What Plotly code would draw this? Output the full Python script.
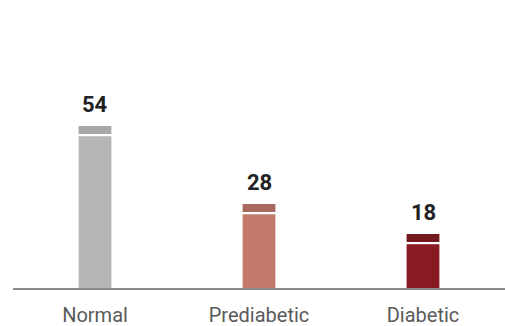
import plotly.graph_objects as go

categories = ["Normal", "Prediabetic", "Diabetic"]
values = [54, 28, 18]
body_colors = ["#b5b5b5", "#c27a6b", "#8a1a22"]
cap_colors = ["#a8a8a8", "#a86a5e", "#741820"]

cap = 3.4
gap = 0.7

fig = go.Figure()
fig.add_trace(go.Bar(
    x=categories, y=[v - cap for v in values], base=0,
    marker=dict(color=body_colors, line=dict(width=0)),
    width=0.2, hoverinfo="skip", showlegend=False,
))
fig.add_trace(go.Bar(
    x=categories, y=[cap - gap] * len(values), base=[v - cap + gap for v in values],
    marker=dict(color=cap_colors, line=dict(width=0)),
    width=0.2, hoverinfo="skip", showlegend=False,
))
for c, v in zip(categories, values):
    fig.add_annotation(x=c, y=v, text=f"<b>{v}</b>", showarrow=False,
                       yshift=21, font=dict(family="Roboto", size=22, color="#222222"))

fig.update_layout(
    width=505, height=326,
    margin=dict(l=13, r=0, t=20, b=38),
    barmode="overlay",
    paper_bgcolor="white", plot_bgcolor="white",
    font=dict(family="Roboto", size=20, color="#5a5a5a"),
    xaxis=dict(showline=True, linecolor="#8a8a8a", linewidth=1.5, showgrid=False,
               ticks="", ticklabelstandoff=8, zeroline=False, fixedrange=True,
               automargin=False),
    yaxis=dict(visible=False, range=[0, 89.3], showgrid=False, zeroline=False),
)
fig.write_html("out.html")
